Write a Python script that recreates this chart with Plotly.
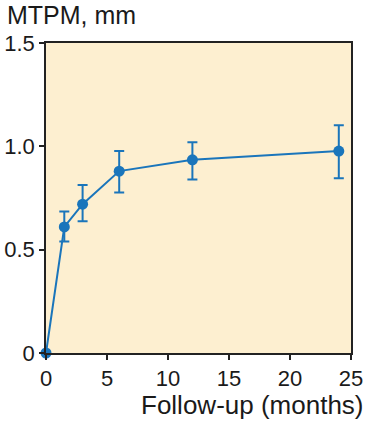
import plotly.graph_objects as go

months = [0, 1.5, 3, 6, 12, 24]
mtpm = [0, 0.61, 0.72, 0.88, 0.935, 0.977]
err_plus = [0, 0.075, 0.093, 0.098, 0.085, 0.125]
err_minus = [0, 0.07, 0.083, 0.103, 0.095, 0.132]

x_ticks = [0, 5, 10, 15, 20, 25]
y_ticks = [0, 0.5, 1.0, 1.5]
y_ticktext = ["0", "0.5", "1.0", "1.5"]

blue = "#1a75bb"
font = "Liberation Sans, Arial, Helvetica, sans-serif"

fig = go.Figure()
fig.add_trace(go.Scatter(
    x=months, y=mtpm, mode="lines+markers",
    line=dict(color=blue, width=2),
    marker=dict(color=blue, size=11),
    error_y=dict(type="data", symmetric=False, array=err_plus, arrayminus=err_minus,
                 color=blue, thickness=2, width=5),
    cliponaxis=False, showlegend=False,
))

axis_common = dict(showline=True, linecolor="#222", linewidth=1.5, mirror=True,
                   ticks="outside", ticklen=5, tickwidth=1.5, tickcolor="#222",
                   showgrid=False, zeroline=False, automargin=False,
                   tickfont=dict(family=font, size=22, color="#1a1a1a"))

fig.update_xaxes(range=[0, 25], tickvals=x_ticks, **axis_common)
fig.update_yaxes(range=[0, 1.5], tickvals=y_ticks, ticktext=y_ticktext, **axis_common)

fig.update_layout(
    width=368, height=423,
    margin=dict(l=46, r=17, t=43, b=70),
    plot_bgcolor="#fdefd0", paper_bgcolor="white",
    font=dict(family=font, color="#1a1a1a"),
    annotations=[
        dict(text="MTPM, mm", xref="paper", yref="paper", x=-41/305, y=(352.7-15)/310,
             xanchor="left", yanchor="middle", showarrow=False,
             font=dict(size=25, family=font, color="#1a1a1a")),
        dict(text="Follow-up (months)", xref="paper", yref="paper", x=(366-46)/305,
             y=-(405-352.7)/310, xanchor="right", yanchor="middle", showarrow=False,
             font=dict(size=26, family=font, color="#1a1a1a")),
    ],
)

fig.write_html("out.html")
